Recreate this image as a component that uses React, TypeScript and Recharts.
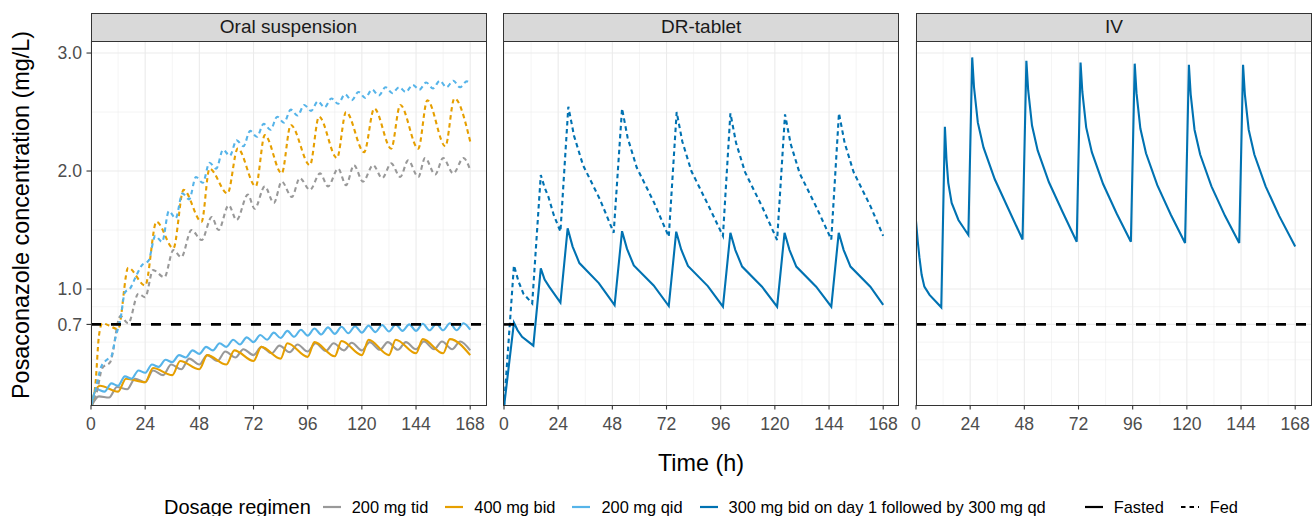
import { LineChart, Line, XAxis, YAxis, CartesianGrid, ReferenceLine } from 'recharts'

type Pair = [number, number]

// ─── Data ─────────────────────────────────────────────────────────────────────

const xTicks = [0, 24, 48, 72, 96, 120, 144, 168]
const xMinorTicks = [12, 36, 60, 84, 108, 132, 156]
const yTicks = [0.7, 1.0, 2.0, 3.0]
const yMinorTicks = [0.4, 0.55, 0.85, 1.5, 2.5]
const targetLevel = 0.7

const panelTitles = ['Oral suspension', 'DR-tablet', 'IV']

// [time (h), concentration (mg/L)]
// Oral suspension, fed
const tidFed: Pair[] = [
  [0, 0], [2.5, 0.12], [5, 0.33], [8.5, 0.38], [13, 0.77], [16.5, 0.71], [21, 0.96], [24, 0.93],
  [27.5, 1.16], [32.5, 1.1], [36.5, 1.33], [40, 1.27], [44.5, 1.5], [49, 1.415], [53.5, 1.61],
  [56.5, 1.5], [61, 1.71], [64.5, 1.585], [69.5, 1.8], [72.5, 1.68], [77, 1.87], [81, 1.73],
  [84.5, 1.91], [89, 1.78], [92.5, 1.94], [97, 1.84], [101.5, 1.98], [105, 1.87], [109.5, 2.02],
  [113, 1.88], [116.5, 2.05], [120.5, 1.91], [125, 2.05], [129, 1.94], [133, 2.065], [137, 1.95],
  [140.5, 2.09], [145, 1.95], [148, 2.11], [152.5, 1.97], [156, 2.11], [160.5, 1.98], [165, 2.11],
  [168, 2.01],
]
const bidFed: Pair[] = [
  [0, 0], [2, 0.2], [3.5, 0.6], [5, 0.71], [8, 0.69], [12, 0.66], [16.5, 1.18], [24, 1.03],
  [29, 1.57], [36.5, 1.345], [41, 1.84], [49, 1.57], [52.5, 2.02], [60.5, 1.81], [65, 2.19],
  [73, 1.87], [77, 2.305], [84.5, 1.98], [88.5, 2.39], [97, 2.05], [101, 2.46], [109, 2.11],
  [113, 2.5], [121, 2.16], [125.5, 2.53], [133, 2.19], [137, 2.56], [145, 2.19], [149, 2.6],
  [157, 2.21], [161, 2.615], [168, 2.25],
]
const qidFed: Pair[] = [
  [0, 0], [2, 0.15], [4.5, 0.34], [7, 0.4], [9, 0.43], [11, 0.6], [13, 0.74], [15, 0.97],
  [17.5, 1.01], [19.5, 1.09], [22.5, 1.2], [25.5, 1.24], [28.5, 1.45], [31.5, 1.4], [34.5, 1.66],
  [37.5, 1.6], [40.5, 1.81], [43.5, 1.76], [46.5, 1.95], [49.5, 1.9], [52.5, 2.07], [55.5, 2.02],
  [58.5, 2.18], [61.5, 2.13], [64.5, 2.26], [67.5, 2.21], [70.5, 2.34], [73.5, 2.29], [76.5, 2.4],
  [79.5, 2.35], [82.5, 2.46], [85.5, 2.41], [88.5, 2.52], [91.5, 2.47], [94.5, 2.56], [97.5, 2.51],
  [100.5, 2.59], [103.5, 2.54], [106.5, 2.615], [109.5, 2.57], [112.5, 2.65], [115.5, 2.6],
  [118.5, 2.67], [121.5, 2.62], [124.5, 2.69], [127.5, 2.64], [130.5, 2.71], [133.5, 2.66],
  [136.5, 2.71], [139.5, 2.67], [142.5, 2.73], [145.5, 2.69], [148.5, 2.75], [151.5, 2.7],
  [154.5, 2.765], [157.5, 2.71], [160.5, 2.765], [163.5, 2.71], [166.5, 2.76], [168, 2.74],
]

// Oral suspension, fasted
const tidFasted: Pair[] = [
  [0, 0], [3.5, 0.09], [8, 0.08], [11.5, 0.17], [16, 0.15], [19.5, 0.24], [24, 0.21], [27.5, 0.31],
  [32, 0.27], [35.5, 0.36], [40, 0.32], [43.5, 0.41], [48, 0.36], [51.5, 0.44], [56, 0.39],
  [59.5, 0.47], [64, 0.42], [67.5, 0.49], [72, 0.44], [75.5, 0.51], [80, 0.455], [83.5, 0.52],
  [88, 0.465], [91.5, 0.53], [96, 0.47], [99.5, 0.54], [104, 0.475], [107.5, 0.54], [112, 0.48],
  [115.5, 0.545], [120, 0.48], [123.5, 0.55], [128, 0.485], [131.5, 0.55], [136, 0.485],
  [139.5, 0.55], [144, 0.49], [147.5, 0.555], [152, 0.49], [155.5, 0.555], [160, 0.49],
  [163.5, 0.555], [168, 0.48],
]
const bidFasted: Pair[] = [
  [0, 0], [1.5, 0.12], [4, 0.18], [12, 0.13], [15.5, 0.24], [24, 0.21], [27.5, 0.33], [36, 0.27],
  [39.5, 0.39], [48, 0.32], [51.5, 0.44], [60, 0.36], [63.5, 0.48], [72, 0.39], [75.5, 0.51],
  [84, 0.41], [87, 0.54], [96, 0.425], [99, 0.55], [108, 0.43], [111, 0.56], [120, 0.44],
  [123, 0.57], [132, 0.44], [135, 0.57], [144, 0.455], [147, 0.575], [156, 0.455], [159, 0.575],
  [168, 0.44],
]
const qidFasted: Pair[] = [
  [0, 0], [2.5, 0.15], [6, 0.13], [9, 0.2], [12, 0.18], [15, 0.26], [18, 0.24], [21, 0.31],
  [24, 0.29], [27, 0.36], [30, 0.34], [33, 0.4], [36, 0.38], [39, 0.44], [42, 0.42], [45, 0.48],
  [48, 0.45], [51, 0.51], [54, 0.48], [57, 0.54], [60, 0.51], [63, 0.57], [66, 0.53], [69, 0.59],
  [72, 0.55], [75, 0.61], [78, 0.57], [81, 0.63], [84, 0.585], [87, 0.645], [90, 0.595],
  [93, 0.655], [96, 0.605], [99, 0.665], [102, 0.615], [105, 0.675], [108, 0.62], [111, 0.68],
  [114, 0.625], [117, 0.685], [120, 0.63], [123, 0.69], [126, 0.635], [129, 0.695], [132, 0.64],
  [135, 0.7], [138, 0.645], [141, 0.7], [144, 0.645], [147, 0.705], [150, 0.65], [153, 0.705],
  [156, 0.65], [159, 0.71], [162, 0.65], [165, 0.71], [168, 0.655],
]

// DR-tablet
const drFasted: Pair[] = [
  [0, 0], [4.4, 0.715], [6, 0.65], [8, 0.595], [13, 0.52],
  [16.3, 1.175], [18, 1.08], [20, 1.02], [25, 0.885],
  [28.2, 1.514], [30.4, 1.36], [33.4, 1.22], [42, 1.05], [49, 0.864],
  [52.3, 1.49], [54.5, 1.34], [57.5, 1.2], [66.3, 1.03], [73, 0.856],
  [76.3, 1.486], [78.5, 1.335], [81.5, 1.195], [90.3, 1.025], [97, 0.85],
  [100.3, 1.477], [102.5, 1.33], [105.5, 1.19], [114.3, 1.02], [121, 0.85],
  [124.3, 1.477], [126.5, 1.33], [129.5, 1.19], [138.3, 1.02], [145, 0.85],
  [148.3, 1.477], [150.5, 1.33], [153.5, 1.19], [162.3, 1.02], [168, 0.865],
]
const drFed: Pair[] = [
  [0, 0], [4.4, 1.2], [6.5, 1.06], [8.6, 0.96], [12.5, 0.878],
  [16.3, 1.966], [18, 1.86], [19.7, 1.78], [22, 1.63], [25, 1.486],
  [28.5, 2.545], [30, 2.4], [31, 2.3], [35, 2.05], [42.5, 1.76], [48.6, 1.477],
  [52.3, 2.53], [53.8, 2.38], [54.8, 2.28], [58.8, 2.03], [66.3, 1.74], [73, 1.443],
  [76.5, 2.5], [78, 2.35], [79, 2.25], [83, 2.0], [90.5, 1.71], [97, 1.45],
  [100.3, 2.49], [101.8, 2.34], [102.8, 2.24], [106.8, 1.99], [114.3, 1.7], [121, 1.415],
  [124.5, 2.48], [126, 2.33], [127, 2.23], [131, 1.98], [138.5, 1.69], [145, 1.42],
  [148.4, 2.49], [149.9, 2.34], [150.9, 2.24], [154.9, 1.99], [162.4, 1.7], [168, 1.45],
]

// IV
const ivFasted: Pair[] = [
  [0, 1.576], [0.8, 1.4], [1.5, 1.27], [2.5, 1.12], [3.7, 1.02], [6, 0.95], [11.2, 0.845],
  [12.8, 2.375], [13.5, 2.1], [14.3, 1.9], [15.8, 1.73], [18.8, 1.585], [23.2, 1.458],
  [24.9, 2.963], [25.7, 2.71], [27.4, 2.41], [29.9, 2.2], [34.9, 1.93], [40.9, 1.68], [47.2, 1.42],
  [48.9, 2.935], [49.7, 2.685], [51.4, 2.385], [53.9, 2.175], [58.9, 1.905], [64.9, 1.655], [71.2, 1.4],
  [72.9, 2.92], [73.7, 2.67], [75.4, 2.37], [77.9, 2.16], [82.9, 1.89], [88.9, 1.64], [95.2, 1.4],
  [96.9, 2.91], [97.7, 2.66], [99.4, 2.36], [101.9, 2.15], [106.9, 1.88], [112.9, 1.63], [119.2, 1.39],
  [120.9, 2.9], [121.7, 2.65], [123.4, 2.35], [125.9, 2.14], [130.9, 1.87], [136.9, 1.62], [143.2, 1.39],
  [144.9, 2.9], [145.7, 2.65], [147.4, 2.35], [149.9, 2.14], [154.9, 1.87], [160.9, 1.62], [168, 1.36],
]

const regimenLabels = ['200 mg tid', '400 mg bid', '200 mg qid', '300 mg bid on day 1 followed by 300 mg qd']

// ─── Layout / style ───────────────────────────────────────────────────────────

const GREY = '#999999'
const ORANGE = '#E69F00'
const SKY = '#56B4E9'
const BLUE = '#0072B2'
const regimenColors = [GREY, ORANGE, SKY, BLUE]

const FONT = '"Liberation Sans", Arial, Helvetica, sans-serif'
const PANEL_LEFTS = [91, 503.7, 916.4]
const PANEL_W = 395
const PLOT_TOP = 41
const PLOT_H = 364
const STRIP_TOP = 12.5
const X_DOMAIN: [number, number] = [0, 175]
const Y_DOMAIN: [number, number] = [0.017, 3.102]
const PAD = 20
const FED_DASH = '4.5 3.5'

interface SeriesDef {
  key: string
  data: Pair[]
  color: string
  dashed: boolean
  curve: 'monotone' | 'linear'
}

const panelSeries: SeriesDef[][] = [
  [
    { key: 'tidFasted', data: tidFasted, color: GREY, dashed: false, curve: 'monotone' },
    { key: 'bidFasted', data: bidFasted, color: ORANGE, dashed: false, curve: 'monotone' },
    { key: 'qidFasted', data: qidFasted, color: SKY, dashed: false, curve: 'monotone' },
    { key: 'tidFed', data: tidFed, color: GREY, dashed: true, curve: 'monotone' },
    { key: 'bidFed', data: bidFed, color: ORANGE, dashed: true, curve: 'monotone' },
    { key: 'qidFed', data: qidFed, color: SKY, dashed: true, curve: 'monotone' },
  ],
  [
    { key: 'drFasted', data: drFasted, color: BLUE, dashed: false, curve: 'linear' },
    { key: 'drFed', data: drFed, color: BLUE, dashed: true, curve: 'linear' },
  ],
  [{ key: 'ivFasted', data: ivFasted, color: BLUE, dashed: false, curve: 'linear' }],
]

const toPoints = (pairs: Pair[]) => pairs.map(([t, v]) => ({ t, v }))

const tickStyle = { fontSize: 17.6, fill: '#4D4D4D' }
const tickLineStyle = { stroke: '#333333', strokeWidth: 1.1 }

function PanelChart({ index }: { index: number }) {
  const left = PANEL_LEFTS[index]
  const showY = index === 0
  const axisW = showY ? left : 0
  const padL = showY ? 0 : PAD
  const chartLeft = showY ? 0 : left - PAD
  return (
    <>
      <div
        style={{
          position: 'absolute',
          left: left - 0.5,
          top: STRIP_TOP,
          width: PANEL_W + 1,
          height: PLOT_TOP - STRIP_TOP + 0.5,
          boxSizing: 'border-box',
          background: '#D9D9D9',
          border: '1.1px solid #333333',
          display: 'flex',
          alignItems: 'center',
          justifyContent: 'center',
          fontSize: 19,
          color: '#1A1A1A',
        }}
      >
        {panelTitles[index]}
      </div>
      <div style={{ position: 'absolute', left: chartLeft, top: PLOT_TOP }}>
        <LineChart
          width={padL + axisW + PANEL_W + PAD}
          height={PLOT_H + 44}
          margin={{ top: 0, right: PAD, bottom: 0, left: padL }}
        >
          <CartesianGrid
            horizontalValues={yMinorTicks}
            verticalValues={xMinorTicks}
            stroke="#EBEBEB"
            strokeWidth={0.55}
          />
          <CartesianGrid
            horizontalValues={yTicks}
            verticalValues={xTicks}
            stroke="#EBEBEB"
            strokeWidth={1.1}
          />
          <XAxis
            type="number"
            dataKey="t"
            domain={X_DOMAIN}
            ticks={xTicks}
            interval={0}
            allowDataOverflow
            height={44}
            axisLine={false}
            tickSize={4.5}
            tickMargin={8.5}
            tickLine={tickLineStyle}
            tick={tickStyle}
          />
          <YAxis
            type="number"
            dataKey="v"
            domain={Y_DOMAIN}
            ticks={yTicks}
            interval={0}
            allowDataOverflow
            hide={!showY}
            width={axisW}
            axisLine={false}
            tickSize={4.5}
            tickMargin={4.5}
            tickLine={tickLineStyle}
            tick={tickStyle}
            tickFormatter={(v: number) => v.toFixed(1)}
          />
          {panelSeries[index].map((s) => (
            <Line
              key={s.key}
              data={toPoints(s.data)}
              dataKey="v"
              type={s.curve}
              stroke={s.color}
              strokeWidth={2.1}
              strokeDasharray={s.dashed ? FED_DASH : undefined}
              dot={false}
              activeDot={false}
              isAnimationActive={false}
            />
          ))}
          <ReferenceLine y={targetLevel} stroke="#000000" strokeWidth={2.6} strokeDasharray="10 10" />
        </LineChart>
      </div>
      <div
        style={{
          position: 'absolute',
          left: left - 0.5,
          top: PLOT_TOP - 0.5,
          width: PANEL_W + 1,
          height: PLOT_H + 1,
          boxSizing: 'border-box',
          border: '1.1px solid #333333',
          pointerEvents: 'none',
        }}
      />
    </>
  )
}

function LegendKey({ color, dashed }: { color: string; dashed?: boolean }) {
  return (
    <svg width={20} height={6} style={{ display: 'block', flex: 'none' }}>
      <line
        x1={1}
        x2={19}
        y1={3}
        y2={3}
        stroke={color}
        strokeWidth={2.2}
        strokeDasharray={dashed ? '4.5 4' : undefined}
      />
    </svg>
  )
}

const labelStyle = { fontSize: 16.4, marginLeft: 10, marginRight: 16 }

export default function App() {
  return (
    <div
      style={{
        position: 'fixed',
        left: 0,
        top: 0,
        width: 1312,
        height: 516,
        background: '#FFFFFF',
        fontFamily: FONT,
        overflow: 'hidden',
      }}
    >
      {[0, 1, 2].map((i) => (
        <PanelChart key={i} index={i} />
      ))}

      <div
        style={{
          position: 'absolute',
          left: 22,
          top: 215,
          transform: 'translate(-50%, -50%) rotate(-90deg)',
          whiteSpace: 'nowrap',
          fontSize: 23.4,
          color: '#000000',
          lineHeight: 1,
        }}
      >
        Posaconazole concentration (mg/L)
      </div>
      <div
        style={{
          position: 'absolute',
          left: 701,
          top: 464,
          transform: 'translate(-50%, -50%)',
          whiteSpace: 'nowrap',
          fontSize: 23.4,
          color: '#000000',
          lineHeight: 1,
        }}
      >
        Time (h)
      </div>

      {/* legend, centred under the panels */}
      <div
        style={{
          position: 'absolute',
          left: 701,
          top: 495,
          height: 24,
          transform: 'translateX(-50%)',
          display: 'flex',
          alignItems: 'center',
          whiteSpace: 'nowrap',
          color: '#000000',
        }}
      >
        <span style={{ fontSize: 20, marginRight: 11 }}>Dosage regimen</span>
        {regimenLabels.map((label, i) => (
          <span key={label} style={{ display: 'flex', alignItems: 'center' }}>
            <LegendKey color={regimenColors[i]} />
            <span style={labelStyle}>{label}</span>
          </span>
        ))}
        <span style={{ width: 22 }} />
        <LegendKey color="#000000" />
        <span style={labelStyle}>Fasted</span>
        <LegendKey color="#000000" dashed />
        <span style={{ ...labelStyle, marginRight: 0 }}>Fed</span>
      </div>
    </div>
  )
}
